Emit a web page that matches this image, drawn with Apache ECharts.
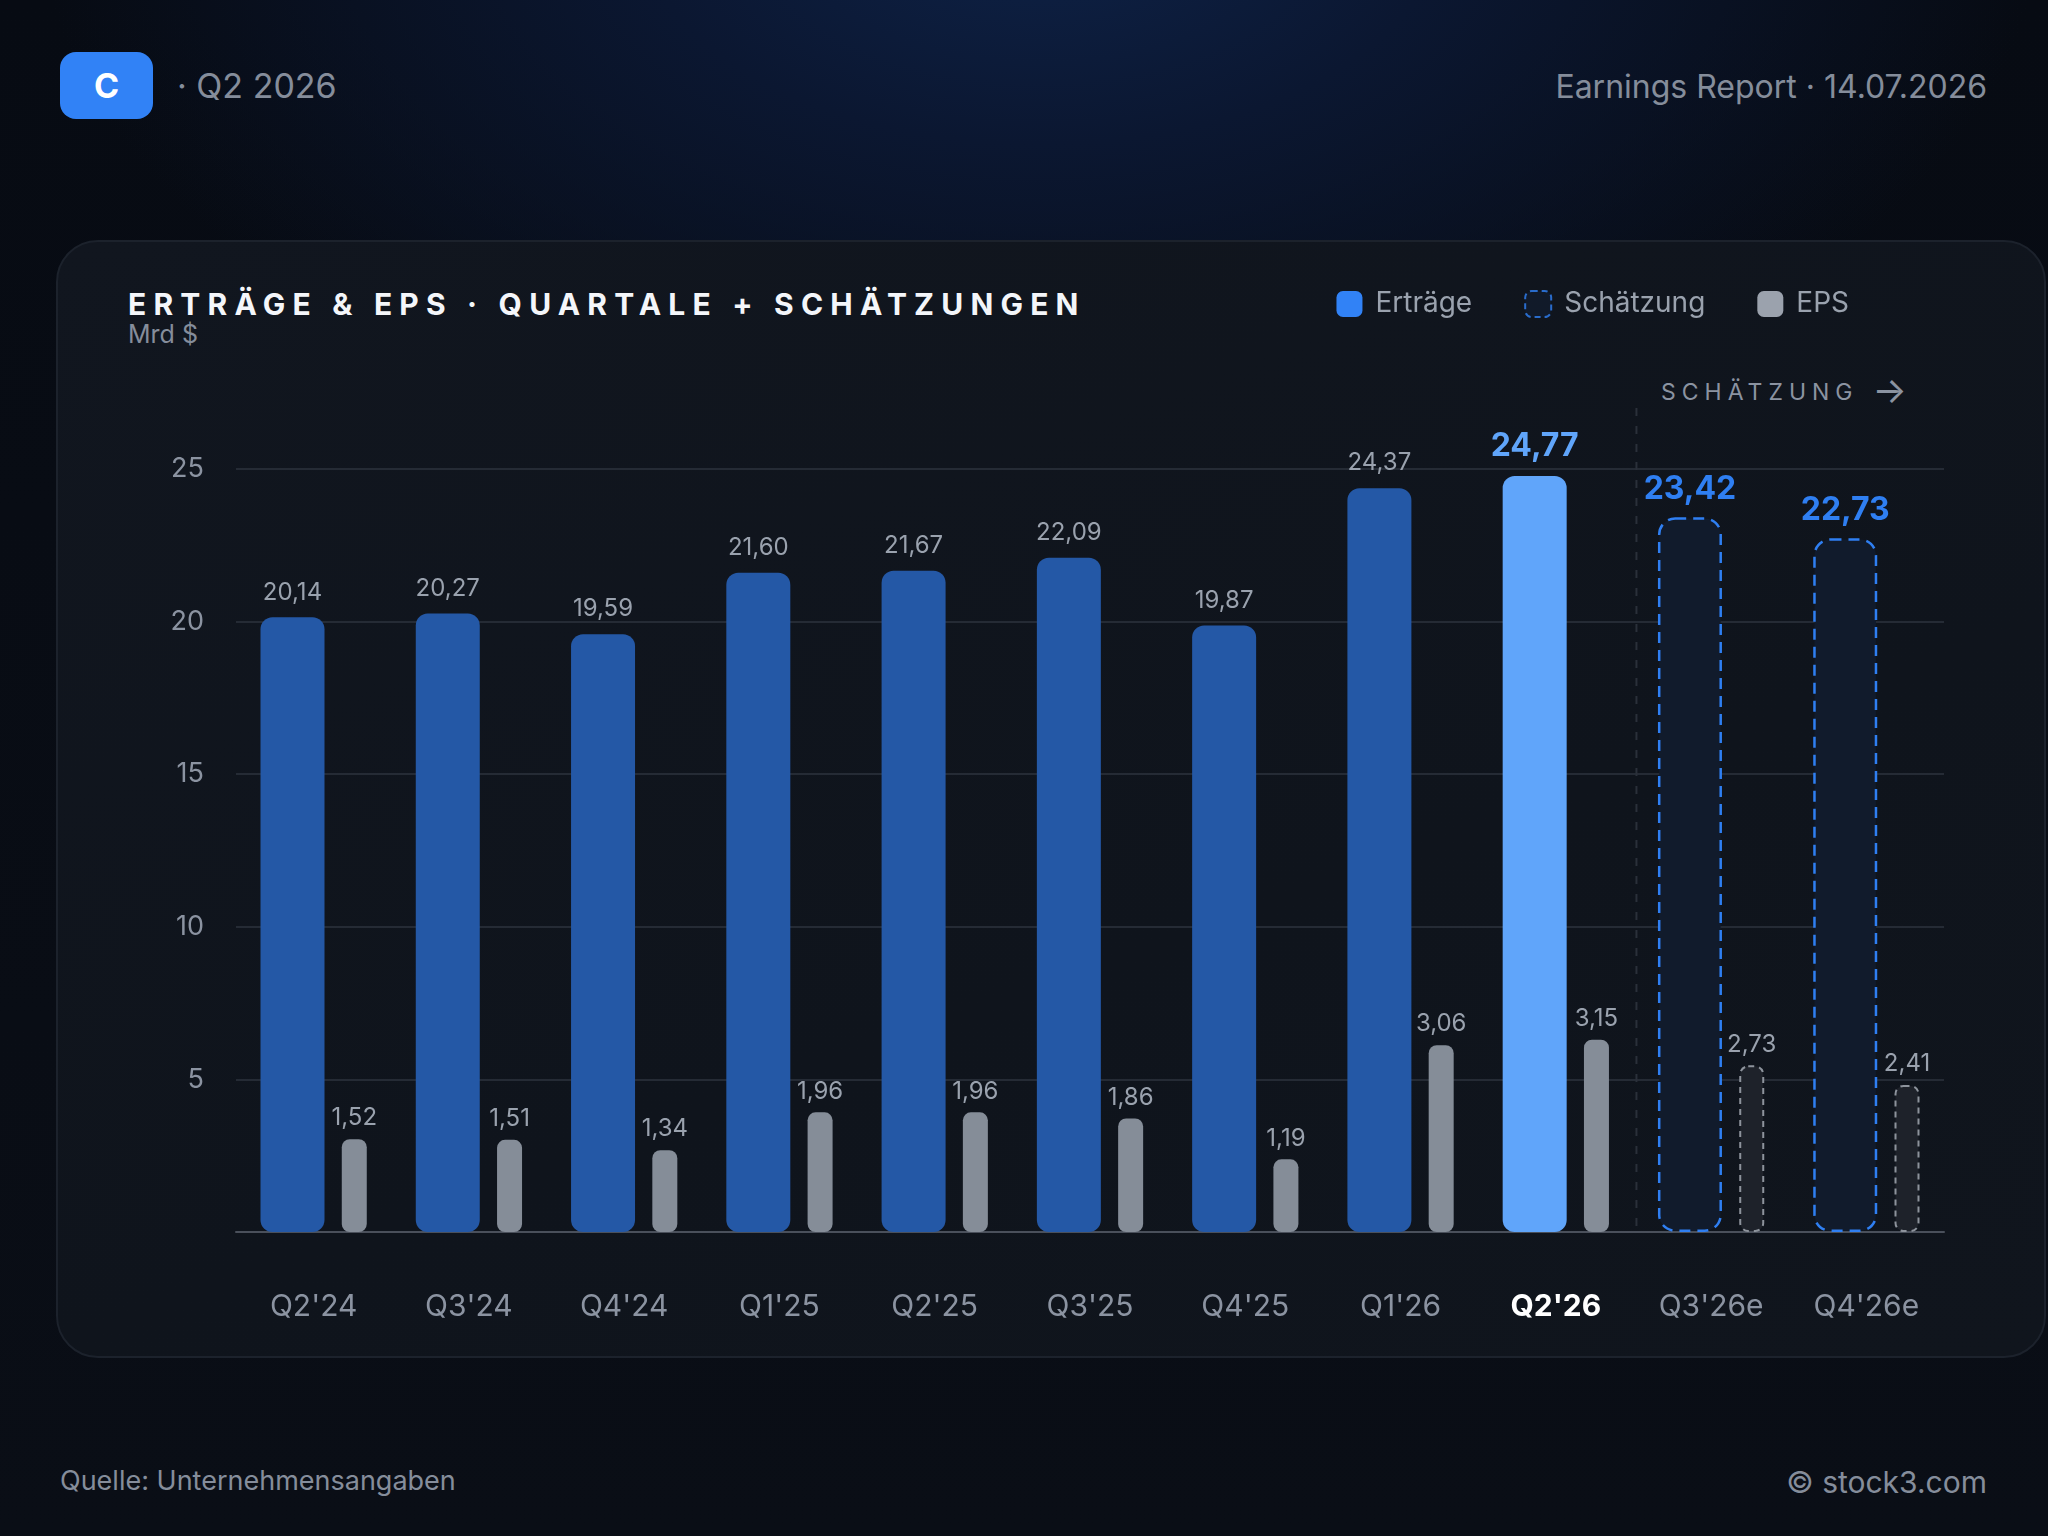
<!DOCTYPE html>
<html>
<head>
<meta charset="utf-8">
<script src="https://cdn.jsdelivr.net/npm/echarts@6/dist/echarts.min.js"></script>
<style>
html,body{margin:0;padding:0;}
body{
  width:2048px;height:1536px;overflow:hidden;position:relative;
  font-family:Inter,"Noto Sans",sans-serif;
  background:
    radial-gradient(ellipse 1000px 560px at 1040px -80px, #0e2247 0%, #0b1731 40%, rgba(8,12,20,0) 100%),
    linear-gradient(180deg, #070b13 0%, #0a0e16 100%);
}
.logo{position:absolute;left:60px;top:52px;width:93px;height:67px;border-radius:16px;background:#3182f6;
  color:#fff;font-weight:700;font-size:34px;display:flex;align-items:center;justify-content:center;}
.sub{position:absolute;left:177px;top:64px;font-size:34px;line-height:44px;color:#858d9b;}
.report{position:absolute;right:61px;top:65px;font-size:32px;line-height:44px;color:#858d9b;}
.card{position:absolute;left:56px;top:240px;width:1990px;height:1118px;border-radius:42px;box-sizing:border-box;
  border:2px solid #1c222c;background:linear-gradient(160deg,#11161f 0%,#0f141c 60%,#10151d 100%);}
.title{position:absolute;left:128px;top:285px;font-size:30px;font-weight:700;color:#f4f6fa;letter-spacing:7.2px;line-height:38px;}
.unit{position:absolute;left:128px;top:319px;font-size:25px;color:#858d9b;line-height:30px;}
.est{position:absolute;left:1661px;top:375px;font-size:23px;color:#8b93a1;letter-spacing:6px;line-height:30px;white-space:nowrap;}
.est span{font-size:36px;letter-spacing:0;margin-left:14px;vertical-align:-3px;}
.src{position:absolute;left:60px;top:1465px;font-size:27px;color:#858d9b;line-height:32px;}
.copy{position:absolute;right:61px;top:1464px;font-size:30px;color:#858d9b;line-height:36px;}
#chart{position:absolute;left:0;top:0;width:2048px;height:1536px;}
</style>
</head>
<body>
<div class="logo">C</div>
<div class="sub">· Q2 2026</div>
<div class="report">Earnings Report · 14.07.2026</div>
<div class="card"></div>
<div class="title">ERTRÄGE &amp; EPS · QUARTALE + SCHÄTZUNGEN</div>
<div class="unit">Mrd $</div>
<div class="est">SCHÄTZUNG<span>→</span></div>
<div class="src">Quelle: Unternehmensangaben</div>
<div class="copy">© stock3.com</div>
<div id="chart"></div>

<script>
// Quartale, Erträge (Mrd $) und EPS ($)
var categories = ["Q2'24", "Q3'24", "Q4'24", "Q1'25", "Q2'25", "Q3'25", "Q4'25", "Q1'26", "Q2'26", "Q3'26e", "Q4'26e"];
var revenue = [20.14, 20.27, 19.59, 21.60, 21.67, 22.09, 19.87, 24.37, 24.77, 23.42, 22.73];
var eps = [1.52, 1.51, 1.34, 1.96, 1.96, 1.86, 1.19, 3.06, 3.15, 2.73, 2.41];
var yTicks = [0, 5, 10, 15, 20, 25];

var isEstimate = categories.map(function (c) { return c.slice(-1) === 'e'; });
var currentIdx = isEstimate.indexOf(true) - 1;   // letztes berichtetes Quartal

var gray = '#8b93a1';
var blue = '#3182f6';
var yMax = 27;

function fmt(v) { return v.toFixed(2).replace('.', ','); }

var revData = revenue.map(function (v, i) {
  if (isEstimate[i]) {
    return {
      value: v,
      itemStyle: { color: '#111b2c', borderColor: '#2f7ff2', borderWidth: 2.5, borderType: [11, 7], borderRadius: 16 },
      label: { color: '#2f7ff2', fontWeight: 'bold', fontSize: 32, distance: 12 }
    };
  }
  if (i === currentIdx) {
    return {
      value: v,
      itemStyle: { color: '#60a5fa' },
      label: { color: '#60a5fa', fontWeight: 'bold', fontSize: 32, distance: 14 }
    };
  }
  return v;
});

var epsData = eps.map(function (v, i) {
  if (isEstimate[i]) {
    return {
      value: v,
      itemStyle: { color: '#1e222a', borderColor: '#8d939c', borderWidth: 2, borderType: [6, 5] }
    };
  }
  return v;
});

var chart = echarts.init(document.getElementById('chart'), null, { renderer: 'canvas' });

var option = {
  backgroundColor: 'transparent',
  textStyle: { fontFamily: 'Inter' },
  animation: false,
  legend: {
    right: 194,
    top: 285,
    icon: 'roundRect',
    itemWidth: 26,
    itemHeight: 26,
    itemGap: 52,
    selectedMode: false,
    textStyle: { color: '#9aa2ae', fontSize: 28, fontFamily: 'Inter', padding: [0, 0, 0, 8] },
    data: [
      { name: 'Erträge', itemStyle: { color: blue } },
      { name: 'Schätzung', itemStyle: { color: '#111b2d', borderColor: blue, borderWidth: 2, borderType: [6, 4] } },
      { name: 'EPS', itemStyle: { color: '#9ba2ad' } }
    ]
  },
  grid: { left: 236, right: 104, top: 408, bottom: 304 },
  xAxis: {
    type: 'category',
    data: categories,
    axisTick: { show: false },
    axisLine: { lineStyle: { color: '#4a505b', width: 2 } },
    axisLabel: {
      interval: 0,
      color: gray,
      fontSize: 30,
      margin: 60,
      formatter: function (v, i) { return i === currentIdx ? '{cur|' + v + '}' : v; },
      rich: { cur: { color: '#ffffff', fontWeight: 'bold', fontSize: 30 } }
    }
  },
  yAxis: [
    {
      type: 'value',
      min: yTicks[0],
      max: yMax,
      interval: yTicks[1] - yTicks[0],
      axisLine: { show: false },
      axisTick: { show: false },
      axisLabel: { color: gray, fontSize: 27, margin: 32, showMinLabel: false, showMaxLabel: false },
      splitLine: { showMinLine: false, showMaxLine: false, lineStyle: { color: '#252b35', width: 2 } }
    },
    {
      type: 'value',
      min: 0,
      max: yMax / 2,
      show: false,
      splitLine: { show: false }
    }
  ],
  series: [
    {
      name: 'Erträge',
      type: 'bar',
      yAxisIndex: 0,
      barWidth: 64,
      barGap: '27%',
      itemStyle: { color: '#2458a6', borderRadius: 12 },
      label: {
        show: true, position: 'top', distance: 13, color: '#9aa2ae', fontSize: 24,
        formatter: function (p) { return fmt(p.value); }
      },
      data: revData
    },
    {
      name: 'EPS',
      type: 'bar',
      yAxisIndex: 1,
      barWidth: 25,
      itemStyle: { color: '#858d98', borderRadius: 8 },
      label: {
        show: true, position: 'top', distance: 9, color: '#9aa2ae', fontSize: 24,
        formatter: function (p) { return fmt(p.value); }
      },
      data: epsData
    },
    {
      name: 'Schätzung',
      type: 'scatter',
      data: []
    }
  ]
};

chart.setOption(option);

// gestrichelte Trennlinie zwischen Ist und Schätzung
var xA = chart.convertToPixel({ xAxisIndex: 0 }, categories[currentIdx]);
var xB = chart.convertToPixel({ xAxisIndex: 0 }, categories[currentIdx + 1]);
var yTop = chart.convertToPixel({ yAxisIndex: 0 }, yMax);
var yBot = chart.convertToPixel({ yAxisIndex: 0 }, 0);
chart.setOption({
  graphic: [{
    type: 'line',
    z: 0,
    shape: { x1: (xA + xB) / 2 + 3, y1: yTop, x2: (xA + xB) / 2 + 3, y2: yBot },
    style: { stroke: '#2a303a', lineWidth: 2, lineDash: [8, 10] }
  }]
});
</script>
</body>
</html>
